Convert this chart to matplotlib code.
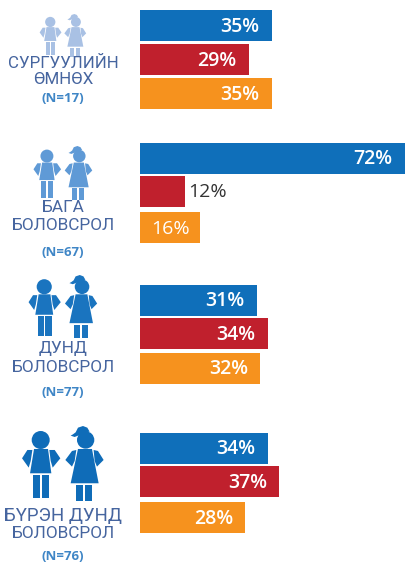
import matplotlib
matplotlib.use('Agg')
import matplotlib.pyplot as plt
from matplotlib.patches import Circle, Polygon, Rectangle

W, H = 405, 564

# данные
group_lines = [['СУРГУУЛИЙН', 'ӨМНӨХ'], ['БАГА', 'БОЛОВСРОЛ'], ['ДУНД', 'БОЛОВСРОЛ'], ['БҮРЭН ДУНД', 'БОЛОВСРОЛ']]
group_n = ['(N=17)', '(N=67)', '(N=77)', '(N=76)']
blue_vals = [35, 72, 31, 34]
red_vals = [29, 12, 34, 37]
orange_vals = [35, 16, 32, 28]

# разметка в пикселях
blue_y = [25.5, 158, 300, 448]
red_y = [59.5, 191, 333.5, 481.5]
orange_y = [93.5, 227.5, 368, 517.5]
bar_h = 31
px_per_pct = 3.76
colors = ['#0f6fba', '#c0202d', '#f6921e']

line_y = [[63, 80], [208, 226], [349, 368], [516, 534]]
line_size = [[12.2, 12.2], [12.4, 12.4], [12.4, 12.4], [13.4, 12.4]]
n_y = [99, 252, 392, 557]
icon_color = ['#a9c1e4', '#5f9ad6', '#1a74bf', '#0f6cb8']
icon_scale = [0.19, 0.24, 0.28, 0.333]
icon_top = [14, 146, 275, 426]
icon_cx = 63


def draw_icon(ax, cx, top, s, color):
    def tx(x):
        return cx + (x - 145) * s

    def ty(y):
        return top + (y - 3) * s

    def poly(pts):
        ax.add_patch(Polygon([(tx(x), ty(y)) for x, y in pts], color=color, lw=0))

    def rect(x0, y0, x1, y1):
        ax.add_patch(Rectangle((tx(x0), ty(y0)), (x1 - x0) * s, (y1 - y0) * s, color=color, lw=0))

    # мальчик
    ax.add_patch(Circle((tx(78), ty(45)), 27 * s, color=color, lw=0))
    poly([(58, 72), (100, 72), (110, 145), (46, 145)])
    poly([(53, 75), (38, 75), (22, 100), (42, 128), (48, 108)])
    poly([(104, 75), (120, 75), (137, 100), (114, 128), (108, 108)])
    rect(54, 150, 76, 220)
    rect(82, 150, 104, 220)
    # девочка
    ax.add_patch(Circle((tx(213), ty(45)), 26 * s, color=color, lw=0))
    poly([(168, 32), (180, 36), (195, 30), (205, 24), (225, 20), (218, 8), (205, 3), (190, 8), (183, 22), (175, 28)])
    poly([(190, 72), (232, 72), (252, 175), (168, 175)])
    poly([(185, 75), (172, 78), (152, 105), (172, 125), (180, 108)])
    poly([(237, 75), (250, 78), (267, 105), (247, 125), (240, 108)])
    rect(184, 180, 205, 228)
    rect(212, 180, 233, 228)


fig = plt.figure(figsize=(W / 100, H / 100), dpi=100)
bg = fig.add_axes([0, 0, 1, 1])
bg.set_xlim(0, W)
bg.set_ylim(H, 0)
bg.axis('off')

ax = fig.add_axes([140 / W, 0, 1 - 140 / W, 1])
x_max = (W - 140) / px_per_pct
ax.set_xlim(0, x_max)
ax.set_ylim(H, 0)
ax.axis('off')
ax.patch.set_alpha(0)

series = [(blue_vals, blue_y), (red_vals, red_y), (orange_vals, orange_y)]
for (vals, ys), c in zip(series, colors):
    ax.barh(ys, vals, height=bar_h, color=c, linewidth=0)
    for v, y in zip(vals, ys):
        if v < 15:
            ax.text(v + 0.8, y + 1, f'{v}%', color='#333333', fontsize=14, family='Open Sans',
                    ha='left', va='center')
        elif v == 16:
            ax.text(v / 2, y + 1, f'{v}%', color='white', fontsize=14, family='Open Sans',
                    ha='center', va='center')
        else:
            # полоса 72% обрезана краем картинки
            ax.text(min(v, x_max) - 3.3, y + 1, f'{v}%', color='white', fontsize=14, family='Open Sans',
                    ha='right', va='center', fontweight='semibold')

for i in range(4):
    draw_icon(bg, icon_cx, icon_top[i], icon_scale[i], icon_color[i])
    for line, y, size in zip(group_lines[i], line_y[i], line_size[i]):
        bg.text(63, y, line, color='#46659f', fontsize=size, family='Roboto',
                ha='center', va='center')
    bg.text(63, n_y[i], group_n[i], color='#3f86c6', fontsize=9.5, family='Open Sans',
            ha='center', va='center', fontweight='bold')

fig.savefig('out.png', dpi=100)
